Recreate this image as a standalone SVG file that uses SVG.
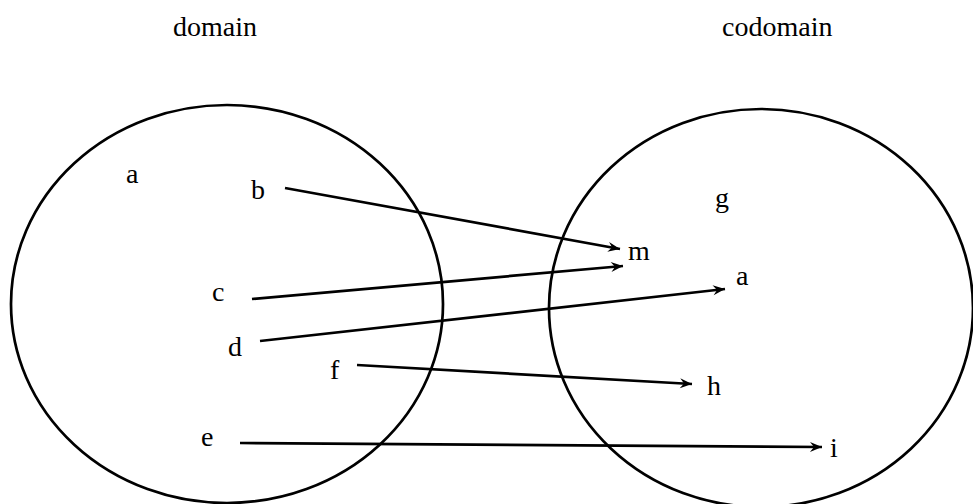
<svg xmlns="http://www.w3.org/2000/svg" width="973" height="504" viewBox="0 0 973 504">
<style>
.set{fill:none;stroke:#000;stroke-width:2.7}
.edge{stroke:#000;stroke-width:2.7;fill:none;marker-end:url(#arr)}
text{font-family:'Liberation Serif','Times New Roman',Times,serif;font-size:28px;fill:#000}
</style>
<defs>
<marker id="arr" markerUnits="userSpaceOnUse" markerWidth="14" markerHeight="10" refX="12" refY="5" orient="auto" overflow="visible">
<path d="M0,0 L12,5 L0,10 L4,5 Z" fill="#000"/>
</marker>
</defs>
<rect width="973" height="504" fill="#fff"/>
<g id="domain">
<ellipse class="set" cx="227" cy="304" rx="216" ry="199"/>
<text x="173" y="36" font-family="Liberation Serif, serif">domain</text>
</g>
<g id="codomain">
<ellipse class="set" cx="761" cy="308" rx="212" ry="199"/>
<text x="722" y="36" font-family="Liberation Serif, serif">codomain</text>
</g>
<g id="node-a1"><text x="126" y="183">a</text></g>
<g id="node-b"><text x="251" y="199">b</text></g>
<g id="node-c"><text x="212" y="301">c</text></g>
<g id="node-d"><text x="228" y="356">d</text></g>
<g id="node-f"><text x="330" y="379">f</text></g>
<g id="node-e"><text x="201" y="446">e</text></g>
<g id="node-g"><text x="715" y="207">g</text></g>
<g id="node-m"><text x="628" y="260">m</text></g>
<g id="node-a2"><text x="736" y="285">a</text></g>
<g id="node-h"><text x="707" y="395">h</text></g>
<g id="node-i"><text x="830" y="457">i</text></g>
<g id="connectors">
<line class="edge" x1="285" y1="188" x2="620" y2="249"/>
<line class="edge" x1="252" y1="299" x2="623" y2="266"/>
<line class="edge" x1="260" y1="341" x2="725" y2="289"/>
<line class="edge" x1="357" y1="365" x2="692" y2="384"/>
<line class="edge" x1="240" y1="443" x2="822" y2="447"/>
</g>
</svg>
